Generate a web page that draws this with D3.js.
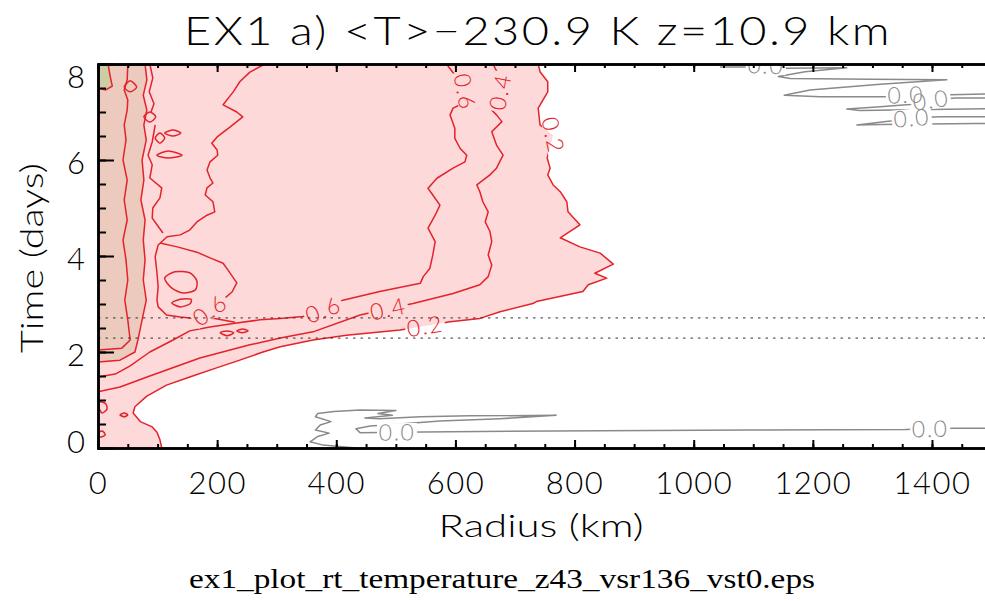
<!DOCTYPE html>
<html>
<head>
<meta charset="utf-8">
<script src="https://cdn.jsdelivr.net/npm/d3@7"></script>
<style>
  body { margin: 0; background: #fff; }
  text { font-family: Lato, "DejaVu Sans", sans-serif; font-weight: 300; }
</style>
</head>
<body>
<svg id="chart" width="985" height="601"></svg>
<script>
// ---- axis ticks -------------------------------------------------------
const radiusTicks = [0, 200, 400, 600, 800, 1000, 1200, 1400];
const radiusMinor = d3.range(0, 1501, 50);
const timeTicks = [0, 2, 4, 6, 8];
const timeMinor = d3.range(0, 8.01, 0.5);
const refTimes = [2.29, 2.71];

// ---- contour lines, [radius km, time days] -----------------------------
const level02 = [[739,8.0],[742,7.84],[755,7.63],[755,7.42],[739,7.08],[742,6.73],[764,6.52],[754,6.04],
  [759,5.83],[755,5.69],[764,5.48],[776,5.34],[787,5.13],[789,4.92],[809,4.65],[776,4.38],[809,4.19],
  [843,4.06],[865,3.83],[834,3.64],[854,3.54],[823,3.40],[814,3.26],[736,3.05],[730,3.01],[675,2.84],
  [641,2.70],[591,2.63],[549,2.54],[507,2.46],[417,2.35],[361,2.25],[306,2.11],[277,2.0],[238,1.83],
  [199,1.67],[154,1.48],[115,1.31],[82,1.08],[62,0.86],[59,0.73],[71,0.55],[91,0.44],[99,0.33],
  [104,0.17],[107,0]];
const level04 = [[663,8.0],[670,7.83],[675,7.42],[658,7.08],[669,6.94],[678,6.80],[661,6.59],[669,6.31],
  [680,6.10],[669,5.83],[658,5.69],[636,5.48],[641,5.34],[646,5.13],[655,4.92],[650,4.71],[658,4.51],
  [661,4.30],[655,4.02],[661,3.81],[655,3.57],[641,3.40],[596,3.22],[529,3.01],[487,2.90],[440,2.77],
  [361,2.42],[306,2.29],[255,2.15],[171,1.875],[87,1.5],[37,1.27],[0,1.17]];
const level06 = [[585,8.0],[599,7.77],[616,7.42],[608,7.15],[596,7.08],[591,6.94],[599,6.66],[599,6.45],
  [608,6.24],[619,6.10],[616,5.96],[596,5.83],[569,5.62],[554,5.41],[562,5.27],[574,5.06],[566,4.85],
  [554,4.58],[566,4.30],[562,4.02],[557,3.74],[546,3.57],[541,3.43],[473,3.26],[411,3.08],[378,2.88],
  [344,2.74],[306,2.70],[272,2.67],[230,2.60],[188,2.52],[154,2.44],[126,2.25],[87,2.0],[54,1.71],
  [29,1.54],[0,1.48]];
const arm06 = [[280,8.0],[255,7.83],[238,7.63],[227,7.42],[210,7.15],[233,7.0],[243,6.90],[222,6.69],
  [200,6.48],[191,6.35],[200,6.21],[201,6.10],[188,5.96],[183,5.79],[188,5.63],[193,5.52],[183,5.42],
  [180,5.27],[193,5.13],[196,4.92],[183,4.85],[166,4.71],[154,4.54],[138,4.44],[116,4.40],[101,4.23],
  [96,3.99],[99,3.64],[101,3.36],[99,3.08],[101,2.94],[115,2.77],[138,2.73],[154,2.71],[196,2.70],
  [230,2.62]];
const ridge06 = [[104,4.27],[133,4.19],[166,4.08],[188,3.96],[210,3.85],[218,3.71],[233,3.44],[225,3.25],
  [205,3.04],[188,2.875],[168,2.71]];
const armA = [[87,8.0],[92,7.71],[86,7.42],[94,7.17],[89,7.0]];
const armB = [[96,6.73],[91,6.375],[84,6.10],[91,5.90],[87,5.625],[107,5.42],[104,5.21],[92,5.0],
  [91,4.79],[99,4.65],[109,4.48]];
const level08 = [[79,8.0],[82,7.67],[76,7.35],[82,7.04],[77,6.73],[81,6.42],[74,6.0],[77,5.58],[72,5.17],
  [79,4.75],[76,4.33],[79,3.92],[76,3.5],[81,3.08],[74,2.67],[67,2.25],[62,2.0],[37,1.83],[0,1.79]];
const level10 = [[50,8.0],[49,7.67],[44,7.46],[50,7.25],[49,7.04],[44,6.73],[47,6.42],[42,6.0],[49,5.58],
  [44,5.17],[49,4.75],[42,4.33],[47,3.92],[50,3.5],[45,3.08],[50,2.67],[54,2.25],[40,2.08],[0,2.04]];
const level12 = [[17,8.0],[20,7.77],[24,7.54],[13,7.46],[0,7.5]];

// small closed contours
const loops = [
  [[112,3.54],[129,3.67],[154,3.65],[166,3.48],[163,3.29],[143,3.23],[124,3.33]],
  [[124,3.02],[138,3.10],[156,3.10],[154,3.0],[138,2.94]],
  [[205,2.40],[217,2.44],[228,2.40],[217,2.34]],
  [[233,2.44],[243,2.48],[252,2.44],[242,2.40]],
  [[77,6.90],[87,7.0],[97,6.90],[87,6.79]],
  [[96,6.46],[104,6.56],[112,6.46],[104,6.35]],
  [[99,6.10],[118,6.19],[141,6.10],[118,6.04]],
  [[112,6.56],[126,6.625],[139,6.56],[126,6.5]],
  [[44,7.52],[54,7.65],[65,7.52],[54,7.42]],
  [[3,0.96],[13,0.92],[15,0.81],[7,0.73],[2,0.83]],
  [[37,0.69],[44,0.73],[50,0.69],[44,0.65]],
  [[2,0.33],[8,0.35],[12,0.27],[3,0.23]]
];

// zero contours
const zeroBottom = [[433,0.0],[378,0.06],[356,0.13],[369,0.24],[388,0.31],[365,0.375],[373,0.48],[391,0.55],
  [365,0.65],[369,0.72],[396,0.76],[440,0.79],[500,0.78],[470,0.72],[494,0.68],[448,0.625],[473,0.61],
  [541,0.65],[624,0.67],[769,0.68],[675,0.61],[574,0.56],[507,0.5],[457,0.46],[433,0.40],[440,0.32],
  [502,0.33],[591,0.34],[843,0.36],[1095,0.375],[1355,0.385],[1397,0.40],[1439,0.41],[1489,0.41]];
const zeroTop1 = [[1044,7.94],[1089,7.94],[1121,7.97],[1156,7.91],[1257,7.92],[1187,7.84],[1142,7.74],
  [1162,7.70],[1296,7.68],[1425,7.67],[1313,7.58],[1195,7.46],[1152,7.35],[1212,7.32],[1323,7.32],
  [1356,7.36],[1393,7.35],[1489,7.375]];
const zeroTop2 = [[1489,7.29],[1439,7.29],[1398,7.25],[1368,7.16],[1313,7.11],[1257,7.06],[1279,7.03],
  [1397,7.05],[1489,7.07]];
const zeroTop3 = [[1489,6.90],[1413,6.90],[1366,6.875],[1330,6.81],[1274,6.73],[1313,6.74],[1475,6.76],
  [1489,6.76]];

// label placements: contour, point index, text
const contourLabels = [
  { line: level02, at: 6, text: "0.2", tone: "red" },
  { line: level02, at: 28, text: "0.2", tone: "red" },
  { line: level04, at: 2, text: "0.4", tone: "red" },
  { line: level04, at: 24, text: "0.4", tone: "red" },
  { line: level06, at: 2, text: "0.6", tone: "red" },
  { line: level06, at: 25, text: "0.6", tone: "red" },
  { line: ridge06, at: 9, text: "0.6", tone: "red" },
  { line: zeroBottom, at: 26, text: "0.0", tone: "grey" },
  { line: zeroBottom, at: 31, text: "0.0", tone: "grey" },
  { line: zeroTop1, at: 2, text: "0.0", tone: "grey" },
  { line: zeroTop1, at: 15, text: "0.0", tone: "grey" },
  { line: zeroTop2, at: 2, text: "0.0", tone: "grey" },
  { line: zeroTop3, at: 2, text: "0.0", tone: "grey" }
];

// ---- layout -------------------------------------------------------------
const svg = d3.select("#chart");
const plotLeft = 98, plotTop = 64, plotBottom = 448, plotRight = 985;
const x = d3.scaleLinear().domain([0, 1500]).range([plotLeft, plotLeft + 1500 * 0.5957]);
const y = d3.scaleLinear().domain([0, 8]).range([plotBottom, plotTop]);

const RED = "#e3222a", GREY = "#8a8a8a";
const FILL_LOW = "#fdd9d9", FILL_MID = "#eccabd", FILL_HIGH = "#cdcca2";
const FONT = "Lato, \"DejaVu Sans\", sans-serif";

const defs = svg.append("defs");
defs.append("clipPath").attr("id", "plotClip")
  .append("rect").attr("x", plotLeft).attr("y", plotTop)
  .attr("width", plotRight - plotLeft).attr("height", plotBottom - plotTop);

const line = d3.line().x(d => x(d[0])).y(d => y(d[1]));
const loopLine = d3.line().x(d => x(d[0])).y(d => y(d[1])).curve(d3.curveCardinalClosed.tension(0.2));

const plot = svg.append("g").attr("clip-path", "url(#plotClip)");

// filled bands
plot.append("path").attr("d", line([[0, 8], ...level02, [0, 0]])).attr("fill", FILL_LOW);
plot.append("path").attr("d", line([[0, 8], ...level08])).attr("fill", FILL_MID);
plot.append("path").attr("d", line([[0, 8], ...level12])).attr("fill", FILL_HIGH);

// label placement in screen space
function labelGeom(spec) {
  const pts = spec.line;
  const i = spec.at;
  const a = pts[Math.max(0, i - 1)], b = pts[Math.min(pts.length - 1, i + 1)];
  let ang = Math.atan2(y(b[1]) - y(a[1]), x(b[0]) - x(a[0])) * 180 / Math.PI;
  if (ang > 90) ang -= 180;
  if (ang < -90) ang += 180;
  return { cx: x(pts[i][0]), cy: y(pts[i][1]), ang };
}
const geoms = contourLabels.map(labelGeom);

// gaps in the contour lines under the labels
const mask = defs.append("mask").attr("id", "labelGaps")
  .attr("maskUnits", "userSpaceOnUse").attr("x", 0).attr("y", 0).attr("width", 985).attr("height", 601);
mask.append("rect").attr("width", 985).attr("height", 601).attr("fill", "#fff");
geoms.forEach(g => {
  mask.append("rect").attr("x", -20).attr("y", -9).attr("width", 40).attr("height", 18)
    .attr("fill", "#000").attr("transform", `translate(${g.cx},${g.cy}) rotate(${g.ang})`);
});

const lines = plot.append("g").attr("mask", "url(#labelGaps)").attr("fill", "none")
  .attr("stroke-width", 1.5).attr("stroke-linejoin", "round");
[level02, level04, level06, arm06, ridge06, armA, armB, level08, level10, level12].forEach(l =>
  lines.append("path").attr("d", line(l)).attr("stroke", RED));
loops.forEach(l => lines.append("path").attr("d", loopLine(l)).attr("stroke", RED));
[zeroBottom, zeroTop1, zeroTop2, zeroTop3].forEach(l =>
  lines.append("path").attr("d", line(l)).attr("stroke", GREY));

// contour labels
plot.append("g").selectAll("text").data(contourLabels).join("text")
  .attr("transform", (d, i) => `translate(${geoms[i].cx},${geoms[i].cy}) rotate(${geoms[i].ang})`)
  .attr("text-anchor", "middle").attr("dy", "0.36em")
  .attr("font-size", 23).attr("letter-spacing", 1.5)
  .attr("fill", d => d.tone === "red" ? RED : GREY)
  .text(d => d.text);

// reference times
plot.append("g").selectAll("line").data(refTimes).join("line")
  .attr("x1", plotLeft).attr("x2", plotRight).attr("y1", d => y(d)).attr("y2", d => y(d))
  .attr("stroke", "#333").attr("stroke-width", 1).attr("stroke-dasharray", "2.5,5");

// ---- axes ---------------------------------------------------------------
function styleAxis(g) {
  g.select(".domain").attr("stroke", "#000").attr("stroke-width", 2.5);
  g.selectAll(".tick line").attr("stroke", "#000").attr("stroke-width", 2);
  g.selectAll("text").attr("font-family", FONT).attr("font-weight", 300)
    .attr("font-size", 31).attr("fill", "#000");
}
const fmt = d3.format("d");
const xMinor = svg.append("g").attr("transform", `translate(0,${plotBottom})`)
  .call(d3.axisBottom(x).tickValues(radiusMinor).tickSize(-4).tickFormat(""));
styleAxis(xMinor);
const xAxis = svg.append("g").attr("transform", `translate(0,${plotBottom})`)
  .call(d3.axisBottom(x).tickValues(radiusTicks).tickFormat(fmt)
    .tickSizeInner(-8).tickSizeOuter(0).tickPadding(24));
styleAxis(xAxis);
xAxis.selectAll(".tick text").attr("letter-spacing", 1.5);
const topMinor = svg.append("g").attr("transform", `translate(0,${plotTop})`)
  .call(d3.axisTop(x).tickValues(radiusMinor).tickSize(-4).tickFormat(""));
styleAxis(topMinor);
const topAxis = svg.append("g").attr("transform", `translate(0,${plotTop})`)
  .call(d3.axisTop(x).tickValues(radiusTicks).tickSizeInner(-8).tickSizeOuter(0).tickFormat(""));
styleAxis(topAxis);
const yMinor = svg.append("g").attr("transform", `translate(${plotLeft},0)`)
  .call(d3.axisLeft(y).tickValues(timeMinor).tickSize(-8).tickFormat(""));
styleAxis(yMinor);
const yAxis = svg.append("g").attr("transform", `translate(${plotLeft},0)`)
  .call(d3.axisLeft(y).tickValues(timeTicks).tickFormat(fmt)
    .tickSizeInner(-16).tickSizeOuter(0).tickPadding(13));
styleAxis(yAxis);
yAxis.selectAll(".tick text").attr("dy", d => d === 8 ? "0.75em" : d === 0 ? "0.15em" : "0.45em");

// ---- titles -------------------------------------------------------------
svg.append("text").attr("x", 538).attr("y", 45).attr("text-anchor", "middle")
  .attr("font-size", 39).attr("letter-spacing", 2).attr("textLength", 708).attr("lengthAdjust", "spacingAndGlyphs")
  .text("EX1 a) <T>\u2212230.9 K z=10.9 km");
svg.append("text").attr("x", 541).attr("y", 537).attr("text-anchor", "middle")
  .attr("font-size", 31).attr("textLength", 205).attr("lengthAdjust", "spacingAndGlyphs")
  .text("Radius (km)");
svg.append("text").attr("transform", "translate(43,258) rotate(-90)").attr("text-anchor", "middle")
  .attr("font-size", 31).attr("textLength", 190).attr("lengthAdjust", "spacingAndGlyphs")
  .text("Time (days)");
svg.append("text").attr("x", 502).attr("y", 588).attr("text-anchor", "middle")
  .style("font-family", "\"Liberation Serif\", serif").style("font-weight", 400)
  .attr("font-size", 27).attr("textLength", 626).attr("lengthAdjust", "spacingAndGlyphs")
  .text("ex1_plot_rt_temperature_z43_vsr136_vst0.eps");
</script>
</body>
</html>
